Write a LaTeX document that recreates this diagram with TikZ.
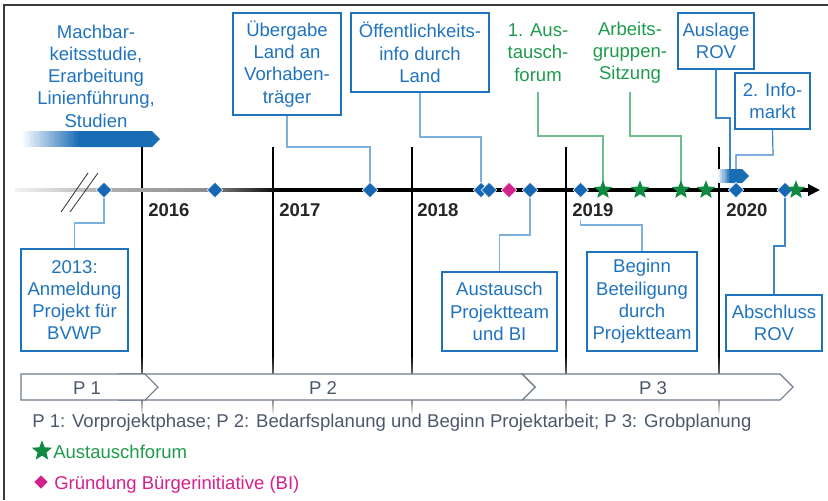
\documentclass[tikz,border=0pt]{standalone}
\usepackage{fontspec}
\setmainfont{Liberation Sans}
\usetikzlibrary{shapes.geometric,arrows.meta}
\definecolor{boxblue}{HTML}{1F73BE}
\definecolor{diablue}{HTML}{1668B4}
\definecolor{barblue}{HTML}{1A6DB5}
\definecolor{conlight}{HTML}{7DB0DF}
\definecolor{condark}{HTML}{3C85C8}
\definecolor{gtxt}{HTML}{1E9A4C}
\definecolor{sgreen}{HTML}{0F8A40}
\definecolor{gcon}{HTML}{6DBE8A}
\definecolor{mag}{HTML}{D4218E}
\definecolor{slate}{HTML}{4B586B}
\definecolor{phasegray}{HTML}{6E7A8A}
\definecolor{framec}{HTML}{3A3A3A}
\begin{document}
\begin{tikzpicture}[x=0.75pt,y=-0.75pt,
  every node/.style={font=\fontsize{13.9}{16.7}\selectfont,inner sep=0pt},
  box/.style={draw=boxblue,line width=0.9pt,text=boxblue,align=center},
  gtext/.style={text=gtxt,align=center},
  btext/.style={text=boxblue,align=center},
  dia/.style={diamond,fill=diablue,draw=white,line width=0.5pt,minimum size=11.8pt},
  mdia/.style={dia,fill=mag},
  gstar/.style={star,star points=5,star point ratio=2.3,fill=sgreen,minimum size=14.5pt},
  conl/.style={draw=conlight,line width=0.9pt},
  cond/.style={draw=condark,line width=0.9pt},
  cong/.style={draw=gcon,line width=0.9pt},
  phase/.style={fill=white,draw=phasegray,line width=0.8pt},
  ptext/.style={text=slate},
  year/.style={font=\fontsize{13.9}{16}\selectfont\bfseries,text=black!85,anchor=base west}
]
\useasboundingbox (0,0) rectangle (828,500);
\draw[framec,line width=1.1pt] (4,500) -- (4,5) -- (828,5);

% top-left text and bar
\node[btext] (mach) at (96,76) {Machbar-\\keitsstudie,\\Erarbeitung\\Linienführung,\\Studien};
\foreach \i in {0,...,23}{
  \pgfmathsetmacro\xa{20+\i*2.5}
  \pgfmathsetmacro\p{\i*100/23}
  \fill[barblue!\p!white] (\xa,131) rectangle (\xa+2.7,147);
}
\fill[barblue] (79.5,131) -- (152,131) -- (160,139) -- (152,147) -- (79.5,147) -- cycle;

% year lines
\foreach \x in {142,273,412,566,719}{
  \draw[line width=2.2pt] (\x,147) -- (\x,356);
  \foreach \j in {0,...,8}{
    \pgfmathsetmacro\ya{355+\j*2.1}
    \pgfmathsetmacro\p{100-\j*5}
    \fill[black!\p] (\x-1.47,\ya) rectangle (\x+1.47,\ya+2.3);
  }
  \foreach \j in {0,...,6}{
    \pgfmathsetmacro\ya{400+\j*2}
    \pgfmathsetmacro\p{45-\j*6}
    \fill[black!\p] (\x-1.47,\ya) rectangle (\x+1.47,\ya+2.2);
  }
}

% axis
\foreach \i in {0,...,109}{
  \pgfmathsetmacro\xa{15+\i*2.5}
  \pgfmathsetmacro\p{\xa<100 ? 5+25*(\xa-15)/85 : (\xa<205 ? 30+15*(\xa-100)/105 : min(100,45+55*(\xa-205)/75))}
  \fill[black!\p] (\xa,188) rectangle (\xa+2.7,192);
}
\draw[line width=3pt,-{Triangle[length=9pt,width=8.5pt]}] (289.5,190) -- (820,190);
\draw[black!80,line width=0.6pt] (61,212) -- (88,173) (70,212) -- (98,173);

% year labels
\node[year] (y16) at (148,216) {2016};
\node[year] (y17) at (279,216) {2017};
\node[year] (y18) at (417,216) {2018};
\node[year] (y19) at (572,216) {2019};
\node[year] (y20) at (726,216) {2020};

% small 2020 arrow
\foreach \i in {0,...,5}{
  \pgfmathsetmacro\xa{718+\i*2.2}
  \pgfmathsetmacro\p{10+\i*18}
  \fill[barblue!\p!white] (\xa,169) rectangle (\xa+2.4,183);
}
\fill[barblue] (730.5,169) -- (742,169) -- (749,176) -- (742,183) -- (730.5,183) -- cycle;
\coordinate (a20a) at (730,169);
\coordinate (a20b) at (736,169);
\coordinate (c19) at (580.7,220);

% boxes top
\node[box,minimum width=81pt,minimum height=76.5pt] (bUeb) at (287,64) {Übergabe\\Land an\\Vorhaben-\\träger};
\node[box,minimum width=103.5pt,minimum height=59.25pt] (bOef) at (420,52.5) {Öffentlichkeits-\\info durch\\Land};
\node[gtext,minimum height=59.25pt] (g1) at (538,52.5) {1. Aus-\\tausch-\\forum};
\node[gtext,minimum height=59.25pt] (g2) at (630,52.5) {Arbeits-\\gruppen-\\Sitzung};
\node[box,minimum width=57pt,minimum height=42pt] (bAus) at (716,41) {Auslage\\ROV};
\node[box,minimum width=56.25pt,minimum height=42pt] (bInf) at (772.5,101) {2. Info-\\markt};

% boxes bottom
\node[box,minimum width=80.25pt,minimum height=76.5pt] (b13) at (74.5,300) {2013:\\Anmeldung\\Projekt für\\BVWP};
\node[box,minimum width=86.25pt,minimum height=59.25pt] (bAT) at (499.5,311.5) {Austausch\\Projektteam\\und BI};
\node[box,minimum width=82.5pt,minimum height=74.25pt] (bBeg) at (642,301.5) {Beginn\\Beteiligung\\durch\\Projektteam};
\node[box,minimum width=72pt,minimum height=42pt] (bAb) at (774,323) {Abschluss\\ROV};

% markers positions
\coordinate (p1) at (104,190);
\coordinate (p2) at (215,190);
\coordinate (p3) at (370,190);
\coordinate (p4) at (481,190);
\coordinate (p5) at (489,190);
\coordinate (pm) at (509,190);
\coordinate (p7) at (530,190);
\coordinate (p8) at (580.7,190);
\coordinate (p9) at (736,190);
\coordinate (p10) at (785,190);

% connectors
\draw[conl] (bUeb.south) -- (287,147) -| (p3);
\draw[conl] (bOef.south) -- (420,137) -| (p4);
\draw[cong] (g1.south) -- (538,136) -| (603,190);
\draw[cong] (g2.south) -- (630,136) -| (681,190);
\draw[cond] (bAus.south) -- (716,118) -| (a20a);
\draw[cond] (bInf.south) -- (773,155) -| (a20b);
\draw[conl] (p1) -- (104,223) -| (b13.north);
\draw[conl] (p7) -- (530,235) -| (bAT.north);
\draw[conl] (c19) -- (580.7,225) -| (bBeg.north);
\draw[cond] (p10) -- (785,246) -| (bAb.north);

% diamonds
\node[dia] (d1) at (p1) {};
\node[dia] (d2) at (p2) {};
\node[dia] (d3) at (p3) {};
\node[dia] (d4) at (p4) {};
\node[dia] (d5) at (p5) {};
\node[mdia] (dm) at (pm) {};
\node[dia] (d7) at (p7) {};
\node[dia] (d8) at (p8) {};
\node[dia] (d9) at (p9) {};
\node[dia] (d10) at (p10) {};
% stars
\node[gstar] (s1) at (603,190) {};
\node[gstar] (s2) at (640,190) {};
\node[gstar] (s3) at (681,190) {};
\node[gstar] (s4) at (706,190) {};
\node[gstar] (s5) at (796,190) {};

% phases
\draw[phase] (522,374) -- (780,374) -- (793,387) -- (780,400) -- (522,400) -- (535,387) -- cycle;
\draw[phase] (119,374) -- (522,374) -- (535,387) -- (522,400) -- (119,400) -- (132,387) -- cycle;
\draw[phase] (21,374) -- (145,374) -- (158,387) -- (145,400) -- (21,400) -- cycle;
\node[ptext,anchor=base] (ph1) at (87,394) {P 1};
\node[ptext,anchor=base] (ph2) at (323,394) {P 2};
\node[ptext,anchor=base] (ph3) at (653,394) {P 3};

% legend
\node[ptext,anchor=base west] (leg) at (32,427) {P 1: Vorprojektphase; P 2: Bedarfsplanung und Beginn Projektarbeit; P 3: Grobplanung};
\node[gstar,minimum size=16pt] (ls) at (42,451) {};
\node[text=gtxt,anchor=base west] (lst) at (53,458) {Austauschforum};
\node[mdia,draw=none,minimum size=10pt] (lm) at (41,482) {};
\node[text=mag,anchor=base west] (lmt) at (54,489) {Gründung Bürgerinitiative (BI)};
\end{tikzpicture}
\end{document}
